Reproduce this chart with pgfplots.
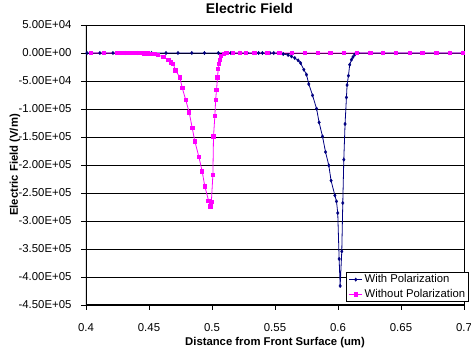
\documentclass[border=0pt]{standalone}
\usepackage{pgfplots}
\pgfplotsset{compat=1.18}
\usepackage{fontspec}
\setmainfont{Liberation Sans}
\definecolor{navyc}{RGB}{0,0,128}
\definecolor{magc}{RGB}{255,0,255}
\begin{document}
\begin{tikzpicture}
\begin{axis}[
  scale only axis, width=378bp, height=280bp,
  xmin=0.4, xmax=0.7, ymin=-450000, ymax=50000,
  xtick={0.4,0.45,0.5,0.55,0.6,0.65,0.7},
  xticklabels={0.4,0.45,0.5,0.55,0.6,0.65,0.7},
  ytick={-450000,-400000,-350000,-300000,-250000,-200000,-150000,-100000,-50000,0,50000},
  yticklabels={-4.50E+05,-4.00E+05,-3.50E+05,-3.00E+05,-2.50E+05,-2.00E+05,-1.50E+05,-1.00E+05,-5.00E+04,0.00E+00,5.00E+04},
  scaled y ticks=false,
  tick align=outside, xtick pos=bottom, ytick pos=left,
  major tick length=5bp,
  tick style={black, line width=0.75bp},
  ymajorgrids, grid style={black, line width=0.75bp},
  axis line style={black, line width=0.75bp},
  ticklabel style={font=\fontsize{11.4bp}{13bp}\selectfont},
  yticklabel style={xshift=-6bp},
  xticklabel style={anchor=base, yshift=-21.5bp},
  title={\textbf{Electric Field}},
  title style={at={(0.4325,1.0196)}, anchor=base, font=\fontsize{14bp}{16bp}\selectfont},
  xlabel={\textbf{Distance from Front Surface (um)}},
  xlabel style={at={(0.5,-0.1446)}, anchor=base, font=\fontsize{11.3bp}{13bp}\selectfont},
  ylabel={\textbf{Electric Field (V/m)}},
  ylabel style={at={(-0.180,0.5)}, anchor=base, font=\fontsize{11.3bp}{13bp}\selectfont},
  legend style={at={(1.0132,0.0107)}, anchor=south east, draw=black, line width=0.75bp, fill=white,
    font=\fontsize{11.3bp}{13bp}\selectfont, inner xsep=2.5bp, inner ysep=1.5bp, row sep=3bp, column sep=1bp,
    nodes={inner xsep=1bp, inner ysep=1bp}},
  legend cell align=left,
  legend image code/.code={\draw[mark repeat=2, mark phase=2, #1] plot coordinates {(0bp,0bp) (6.5bp,0bp) (13bp,0bp)};},
]
\coordinate (ll) at (rel axis cs:0,0);
\coordinate (ur) at (rel axis cs:1,1);
\addplot[navyc, line width=0.8bp, mark=diamond*, mark size=1.7bp, mark options={fill=navyc, draw=navyc, line width=0.4bp}] coordinates {
(0.4008,0) (0.411,0) (0.4214,0) (0.431,0) (0.441,0) (0.452,0) (0.4635,0) (0.473,0) (0.484,0) (0.494,0) (0.505,0) (0.515,0)
(0.522,0) (0.528,0) (0.533,0) (0.537,0) (0.540,0) (0.543,0) (0.546,0) (0.549,0)
(0.5525,0) (0.5565,-1800) (0.5604,-3600) (0.5631,-6100) (0.5657,-8900) (0.5684,-13200) (0.5703,-17900)
(0.5729,-29800) (0.5750,-38700) (0.5768,-55400) (0.5798,-75700) (0.5830,-99500) (0.5850,-123900)
(0.5877,-148900) (0.5901,-176800) (0.5927,-200700) (0.5945,-227900) (0.5975,-254300) (0.5988,-265000)
(0.5998,-285700) (0.6009,-367800) (0.6017,-416000) (0.6030,-354300) (0.6038,-267800) (0.6046,-190500)
(0.6056,-126800) (0.6067,-79300) (0.6072,-57200) (0.6083,-40500) (0.6093,-20900) (0.6107,-12000)
(0.6119,-7100) (0.6133,-3000) (0.6159,0) (0.6252,0) (0.6355,0) (0.6466,0) (0.657,0) (0.667,0)
(0.678,0) (0.6887,0) (0.699,0)
};
\addlegendentry{With Polarization}
\addplot[magc, line width=0.8bp, mark=square*, mark size=1.7bp, mark options={fill=magc, draw=magc}] coordinates {
(0.4037,0) (0.4143,0) (0.4246,0) (0.428,0) (0.431,0) (0.434,0) (0.437,0) (0.440,0) (0.443,-200)
(0.446,-400) (0.449,-700) (0.4515,-1200) (0.4545,-1800) (0.4573,-3500) (0.4613,-7200) (0.4653,-12000)
(0.4672,-16800) (0.4692,-19600) (0.4711,-31100) (0.4745,-43600) (0.4764,-62500) (0.4791,-83400)
(0.4819,-106100) (0.4843,-133900) (0.4864,-157900) (0.4896,-185700) (0.4922,-211400) (0.4943,-238200)
(0.4973,-263700) (0.4986,-273900) (0.4995,-266000) (0.5007,-217300) (0.5012,-148900) (0.5023,-112000)
(0.5029,-83400) (0.5036,-65500) (0.5044,-43600) (0.5049,-28600) (0.5057,-19600) (0.5063,-12000)
(0.5073,-4800) (0.5094,-1200) (0.5115,0) (0.5168,0) (0.5221,0) (0.527,0) (0.5337,0) (0.544,0)
(0.5534,0) (0.5633,0) (0.5738,0) (0.584,0) (0.594,0) (0.6045,0) (0.615,0) (0.6258,0) (0.6355,0)
(0.646,0) (0.657,0) (0.667,0) (0.678,0) (0.6887,0) (0.699,0)
};
\addlegendentry{Without Polarization}
\draw[black, line width=1.6bp] (rel axis cs:0,1) -- (rel axis cs:0,0) -- (rel axis cs:1,0);
\end{axis}
\pgfresetboundingbox
\path ([shift={(-86bp,-47bp)}]ll) rectangle ([shift={(7bp,25bp)}]ur);
\end{tikzpicture}
\end{document}
